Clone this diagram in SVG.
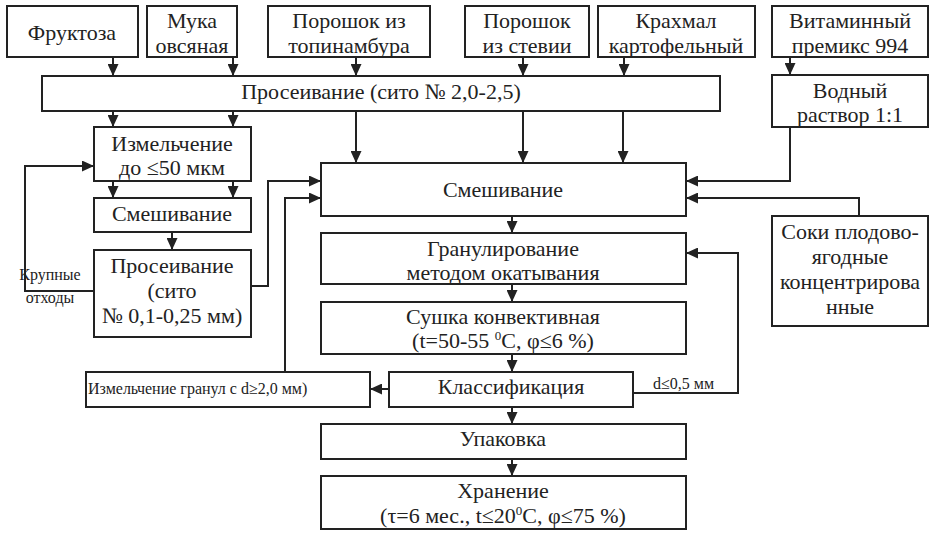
<svg xmlns="http://www.w3.org/2000/svg" width="942" height="536" viewBox="0 0 942 536">
<style>
.b{fill:#fff;stroke:#222;stroke-width:2}
.t{font-family:"Liberation Serif",serif;font-size:22px;fill:#222;text-anchor:middle}
.s{font-family:"Liberation Serif",serif;font-size:16px;fill:#222}
.c{fill:none;stroke:#222;stroke-width:2}
</style>
<defs>
<marker id="a" markerUnits="userSpaceOnUse" markerWidth="12" markerHeight="11" refX="12" refY="5.5" orient="auto">
<path d="M0,0 L12,5.5 L0,11 z" fill="#222"/>
</marker>
</defs>
<rect width="942" height="536" fill="#fff"/>
<g id="connectors" class="c" marker-end="url(#a)">
<path d="M113,57 V76"/>
<path d="M233,57 V76"/>
<path d="M356,57 V76"/>
<path d="M523,57 V76"/>
<path d="M624,57 V76"/>
<path d="M790,57 V75"/>
<path d="M113,111 V127"/>
<path d="M233,111 V127"/>
<path d="M356,111 V163"/>
<path d="M523,111 V163"/>
<path d="M623,111 V163"/>
<path d="M113,181 V198"/>
<path d="M233,181 V198"/>
<path d="M172,232 V250"/>
<path d="M251,286 H268 V181 H321"/>
<path d="M94,291 H25 V166 H94"/>
<path d="M790,127 V181 H686"/>
<path d="M859,216 V198 H686"/>
<path d="M512,216 V233"/>
<path d="M512,284 V302"/>
<path d="M512,354 V372"/>
<path d="M389,389 H370"/>
<path d="M285,372 V198 H321"/>
<path d="M633,393 H738 V253 H686"/>
<path d="M512,407 V424"/>
<path d="M512,459 V476"/>
</g>
<g id="n1"><rect class="b" x="7" y="6" width="131" height="51"/><text class="t" x="72" y="40">Фруктоза</text></g>
<g id="n2"><rect class="b" x="147" y="6" width="90" height="51"/><text class="t" x="192" y="28">Мука</text><text class="t" x="192" y="53">овсяная</text></g>
<g id="n3"><rect class="b" x="268" y="6" width="162" height="51"/><text class="t" x="349" y="28">Порошок из</text><text class="t" x="349" y="53">топинамбура</text></g>
<g id="n4"><rect class="b" x="465" y="6" width="124" height="51"/><text class="t" x="527" y="28">Порошок</text><text class="t" x="527" y="53">из стевии</text></g>
<g id="n5"><rect class="b" x="598" y="6" width="157" height="51"/><text class="t" x="676" y="28">Крахмал</text><text class="t" x="676" y="53">картофельный</text></g>
<g id="n6"><rect class="b" x="772" y="6" width="156" height="51"/><text class="t" x="850" y="28">Витаминный</text><text class="t" x="850" y="53">премикс 994</text></g>
<g id="n7"><rect class="b" x="42" y="76" width="678" height="35"/><text class="t" x="381" y="99">Просеивание (сито № 2,0-2,5)</text></g>
<g id="n8"><rect class="b" x="772" y="75" width="156" height="52"/><text class="t" x="850" y="98">Водный</text><text class="t" x="850" y="122">раствор 1:1</text></g>
<g id="n9"><rect class="b" x="94" y="127" width="157" height="54"/><text class="t" x="172" y="151">Измельчение</text><text class="t" x="172" y="175">до ≤50 мкм</text></g>
<g id="n10"><rect class="b" x="94" y="198" width="157" height="34"/><text class="t" x="172" y="221">Смешивание</text></g>
<g id="n11"><rect class="b" x="94" y="250" width="157" height="87"/><text class="t" x="172" y="273">Просеивание</text><text class="t" x="172" y="298">(сито</text><text class="t" x="172" y="323">№ 0,1-0,25 мм)</text></g>
<g id="n12"><rect class="b" x="321" y="163" width="365" height="53"/><text class="t" x="503" y="197">Смешивание</text></g>
<g id="n13"><rect class="b" x="321" y="233" width="365" height="51"/><text class="t" x="503" y="256">Гранулирование</text><text class="t" x="503" y="280">методом окатывания</text></g>
<g id="n14"><rect class="b" x="321" y="302" width="365" height="52"/><text class="t" x="503" y="324">Сушка конвективная</text><text class="t" x="503" y="348">(t=50-55 <tspan font-size="13" dy="-8">0</tspan><tspan dy="8">С, φ≤6 %)</tspan></text></g>
<g id="n15"><rect class="b" x="772" y="216" width="156" height="110"/><text class="t" x="850" y="239">Соки плодово-</text><text class="t" x="850" y="264">ягодные</text><text class="t" x="850" y="289">концентрирова</text><text class="t" x="850" y="314">нные</text></g>
<g id="n16"><rect class="b" x="86" y="372" width="284" height="35"/><text class="s" x="88" y="394">Измельчение гранул с d≥2,0 мм)</text></g>
<g id="n17"><rect class="b" x="389" y="372" width="244" height="35"/><text class="t" x="511" y="394">Классификация</text></g>
<text class="s" x="653" y="389">d≤0,5 мм</text>
<text class="s" x="50" y="280" text-anchor="middle">Крупные</text>
<text class="s" x="50" y="303" text-anchor="middle">отходы</text>
<g id="n18"><rect class="b" x="321" y="424" width="365" height="35"/><text class="t" x="503" y="446">Упаковка</text></g>
<g id="n19"><rect class="b" x="321" y="476" width="365" height="53"/><text class="t" x="503" y="498">Хранение</text><text class="t" x="503" y="523">(τ=6 мес., t≤20<tspan font-size="13" dy="-8">0</tspan><tspan dy="8">С, φ≤75 %)</tspan></text></g>
</svg>
